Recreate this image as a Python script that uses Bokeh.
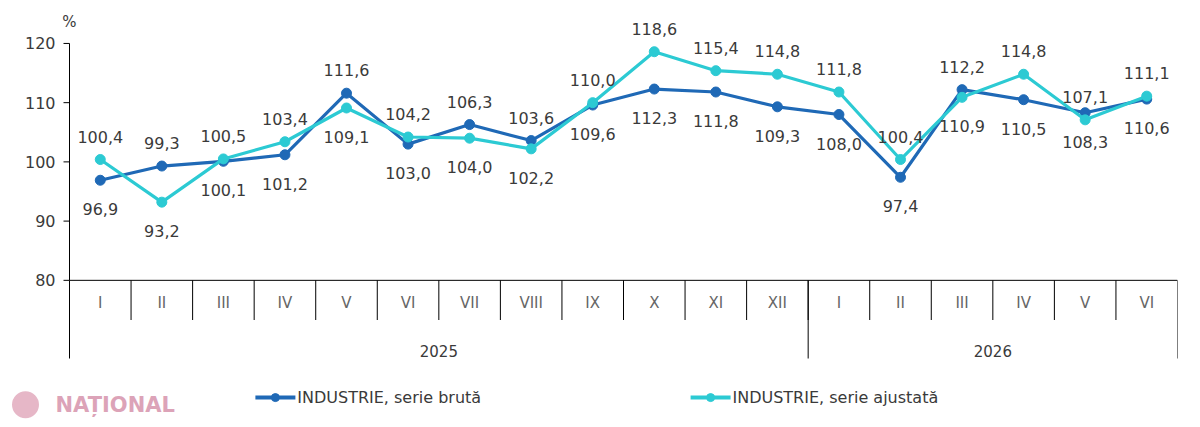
from bokeh.plotting import figure
from bokeh.models import Range1d, ColumnDataSource
from bokeh.core.properties import value
from bokeh.embed import file_html
from bokeh.resources import INLINE

months = ["I", "II", "III", "IV", "V", "VI", "VII", "VIII", "IX", "X", "XI", "XII",
          "I", "II", "III", "IV", "V", "VI"]
years = ["2025", "2026"]
year_counts = [12, 6]
bruta = [96.9, 99.3, 100.1, 101.2, 111.6, 103.0, 106.3, 103.6, 109.6, 112.3, 111.8, 109.3,
         108.0, 97.4, 112.2, 110.5, 108.3, 110.6]
ajustata = [100.4, 93.2, 100.5, 103.4, 109.1, 104.2, 104.0, 102.2, 110.0, 118.6, 115.4, 114.8,
            111.8, 100.4, 110.9, 114.8, 107.1, 111.1]
# label placement: 1 = above the point, -1 = below
bruta_pos = [-1, 1, -1, -1, 1, -1, 1, 1, -1, -1, -1, -1, -1, -1, 1, -1, -1, -1]
ajustata_pos = [1, -1, 1, 1, -1, 1, -1, -1, 1, 1, 1, 1, 1, 1, -1, 1, 1, 1]
series_names = ["INDUSTRIE, serie brută", "INDUSTRIE, serie ajustată"]
y_ticks = [80, 90, 100, 110, 120]

DARK = "#1f69b6"
CYAN = "#2ccad3"
FONT = value("DejaVu Sans")
TXT = "#3a3a3a"

PX = 1108 / 18.0  # pixels per category

p = figure(width=1192, height=419, x_range=Range1d(-69 / PX, 18), y_range=Range1d(56.5, 125.9),
           output_backend="svg", toolbar_location=None,
           min_border_left=0, min_border_right=15, min_border_top=8, min_border_bottom=0)
p.xaxis.visible = False
p.yaxis.visible = False
p.grid.visible = False
p.outline_line_color = None
p.background_fill_color = "white"

n = len(months)
xs = [i + 0.5 for i in range(n)]

# value axis
p.segment(x0=[0], y0=[min(y_ticks)], x1=[0], y1=[max(y_ticks)], line_color="black", line_width=1)
p.segment(x0=[0] * len(y_ticks), y0=y_ticks, x1=[-6 / PX] * len(y_ticks), y1=y_ticks,
          line_color="black", line_width=1)
p.text(x=[-14 / PX] * len(y_ticks), y=y_ticks, text=[str(t) for t in y_ticks],
       text_align="right", text_baseline="middle", text_font=FONT, text_font_size="16px",
       text_color=TXT)
p.text(x=[0], y=[123.6], text=["%"], text_align="center", text_baseline="middle",
       text_font=FONT, text_font_size="15px", text_color=TXT)

# category axis (drawn below y=80)
p.segment(x0=[0], y0=[80], x1=[n], y1=[80], line_color="black", line_width=1)
p.segment(x0=list(range(1, n)), y0=[80] * (n - 1), x1=list(range(1, n)), y1=[73.3] * (n - 1),
          line_color="black", line_width=1)
bounds = [0]
for c in year_counts:
    bounds.append(bounds[-1] + c)
p.segment(x0=bounds, y0=[80] * len(bounds), x1=bounds, y1=[66.8] * len(bounds),
          line_color="black", line_width=1)
p.text(x=xs, y=[76.2] * n, text=months, text_align="center", text_baseline="middle",
       text_font=FONT, text_font_size="15px", text_color="#666666")
ymid = [(bounds[i] + bounds[i + 1]) / 2 for i in range(len(years))]
p.text(x=ymid, y=[68.1] * len(years), text=years, text_align="center", text_baseline="middle",
       text_font=FONT, text_font_size="15px", text_color=TXT)

def fmt(v):
    return f"{v:.1f}".replace(".", ",")

for vals, col in [(bruta, DARK), (ajustata, CYAN)]:
    p.line(xs, vals, line_color=col, line_width=3.2)
    p.scatter(xs, vals, size=10, fill_color=col, line_color=col)

for vals, pos in [(bruta, bruta_pos), (ajustata, ajustata_pos)]:
    src = ColumnDataSource(dict(x=xs, y=vals, t=[fmt(v) for v in vals],
                                off=[-23 if s > 0 else 29 for s in pos]))
    p.text(x="x", y="y", text="t", y_offset="off", source=src, text_align="center",
           text_baseline="middle", text_font=FONT, text_font_size="16px", text_color=TXT)

# legend
leg = [(3.02, DARK, series_names[0]), (10.09, CYAN, series_names[1])]
for x0, col, name in leg:
    p.segment(x0=[x0], y0=[60.2], x1=[x0 + 0.65], y1=[60.2], line_color=col, line_width=4)
    p.scatter([x0 + 0.325], [60.2], size=8, fill_color=col, line_color=col)
    p.text(x=[x0 + 0.68], y=[60.2], text=[name], text_align="left", text_baseline="middle",
           text_font=FONT, text_font_size="16px", text_color=TXT)

# watermark
p.scatter([-44 / PX], [59.0], size=27, fill_color="#e2aabd", line_color=None, fill_alpha=0.85)
p.text(x=[-14 / PX], y=[59.0], text=["NAȚIONAL"], text_align="left", text_baseline="middle",
       text_font=FONT, text_font_size="21px", text_font_style="bold", text_color="#dca3b8")

open("out.html", "w").write(file_html(p, INLINE))
